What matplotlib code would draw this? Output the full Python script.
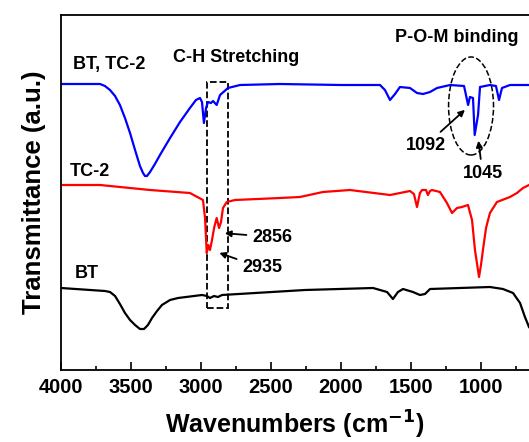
import numpy as np
import matplotlib
matplotlib.use("Agg")
import matplotlib.pyplot as plt
from matplotlib.patches import Rectangle, Ellipse
from matplotlib.ticker import MultipleLocator

plt.rcParams['font.family'] = ['Liberation Sans', 'DejaVu Sans']
plt.rcParams['font.weight'] = 'bold'
plt.rcParams['mathtext.default'] = 'bf'

# spectra (wavenumber, transmittance in arbitrary units)
bt_tc2_wn = [4000, 3721, 3686, 3650, 3614, 3579, 3543, 3507, 3471, 3436, 3414, 3400,
             3386, 3364, 3329, 3293, 3221, 3150, 3079, 3036,
             3007, 2993, 2979, 2964, 2950, 2929, 2914, 2888, 2864, 2807, 2721, 2436,
             2000, 1721, 1686, 1650, 1614, 1579, 1507, 1457, 1414, 1364, 1314, 1221,
             1121, 1092, 1079, 1057, 1045, 1021, 1007, 936, 893, 871, 850, 793, 657]
bt_tc2_t = [286, 286, 284, 280, 274, 265, 252, 237, 220, 204, 197, 194,
            194, 198, 206, 215, 232, 248, 262, 270,
            272, 268, 247, 262, 268, 267, 269, 265, 275, 282, 285, 286,
            285, 285, 280, 270, 276, 283, 282, 277, 276, 278, 282, 285,
            284, 265, 273, 272, 235, 255, 283, 285, 284, 270, 282, 285, 285]

tc2_wn = [4000, 3721, 3364, 3079, 2986, 2971, 2959, 2948, 2936, 2924, 2905, 2888,
          2871, 2857, 2843, 2816, 2757, 2436, 2293, 2129, 1936, 1650, 1507, 1479,
          1457, 1436, 1421, 1393, 1379, 1364, 1350, 1293, 1243, 1207, 1171, 1136,
          1093, 1064, 1043, 1029, 1014, 1000, 986, 964, 936, 886, 793, 743, 700, 657]
tc2_t = [185, 185, 180, 177, 170, 152, 117, 125, 120, 128, 143, 152,
         142, 148, 162, 168, 170, 172, 173, 178, 180, 175, 179, 176,
         163, 177, 180, 180, 175, 179, 180, 178, 167, 157, 162, 163,
         165, 150, 120, 107, 93, 105, 120, 142, 157, 168, 173, 177, 182, 185]

bt_wn = [4000, 3686, 3650, 3614, 3579, 3543, 3507, 3471, 3436, 3407, 3379, 3350,
         3314, 3279, 3221, 3164,
         2993, 2957, 2936, 2907, 2879, 2850, 2257, 1771, 1671, 1629, 1593, 1557,
         1486, 1436, 1400, 1364, 936, 843, 771, 721, 686, 657]
bt_t = [82, 79, 78, 74, 66, 57, 50, 45, 41, 41, 45, 52,
        59, 65, 70, 72,
        75, 74, 72, 74, 73, 75, 80, 82, 78, 71, 78, 81,
        78, 75, 76, 81, 83, 81, 77, 67, 53, 43]

fig = plt.figure(figsize=(5.29, 4.42), dpi=100)
ax = fig.add_axes([61 / 529, 72 / 442, 468 / 529, 355 / 442])

ax.plot(bt_tc2_wn, bt_tc2_t, color='#0000ff', lw=1.6)
ax.plot(tc2_wn, tc2_t, color='#ff0000', lw=1.6)
ax.plot(bt_wn, bt_t, color='black', lw=1.6)

ax.set_xlim(4000, 657)
ax.set_ylim(0, 355)
ax.xaxis.set_major_locator(MultipleLocator(500))
ax.xaxis.set_minor_locator(MultipleLocator(250))
ax.tick_params(axis='x', which='major', direction='in', length=6, width=1.2,
               labelsize=14.5, pad=6)
ax.tick_params(axis='x', which='minor', direction='in', length=3, width=1.2)
ax.set_yticks([])
for side in ['left', 'top', 'bottom']:
    ax.spines[side].set_linewidth(1.3)
ax.spines['right'].set_visible(False)
for lbl in ax.get_xticklabels():
    lbl.set_fontweight('bold')

ax.set_xlabel('Wavenumbers (cm$^{-1}$)', fontsize=18, fontweight='bold', labelpad=8)
ax.set_ylabel('Transmittance (a.u.)', fontsize=18.5, fontweight='bold', labelpad=11)

# series labels and notes
ax.text(3914, 305, 'BT, TC-2', fontsize=13, fontweight='bold', va='center')
ax.text(3936, 198, 'TC-2', fontsize=13, fontweight='bold', va='center')
ax.text(3900, 97, 'BT', fontsize=13, fontweight='bold', va='center')
ax.text(3200, 312, 'C-H Stretching', fontsize=13, fontweight='bold', va='center')
ax.text(1614, 332, 'P-O-M binding', fontsize=13, fontweight='bold', va='center')

ax.add_patch(Rectangle((2957, 62), 2807 - 2957, 226, fill=False, ls='--',
                       lw=1.3, color='black'))
ax.add_patch(Ellipse((1071, 264), 321, 98, fill=False, ls='--', lw=1.1,
                     color='black'))

arrow = dict(arrowstyle='-|>', color='black', lw=1.3, mutation_scale=9)
ax.annotate('1092', xy=(1100, 262), xytext=(1393, 225), fontsize=13,
            fontweight='bold', ha='center', va='center', arrowprops=arrow)
ax.annotate('1045', xy=(1021, 232), xytext=(989, 197), fontsize=13,
            fontweight='bold', ha='center', va='center', arrowprops=arrow)
ax.annotate('2856', xy=(2850, 137), xytext=(2636, 133), fontsize=13,
            fontweight='bold', ha='left', va='center', arrowprops=arrow)
ax.annotate('2935', xy=(2888, 118), xytext=(2707, 102), fontsize=13,
            fontweight='bold', ha='left', va='center', arrowprops=arrow)

fig.savefig('out.png', dpi=100)
